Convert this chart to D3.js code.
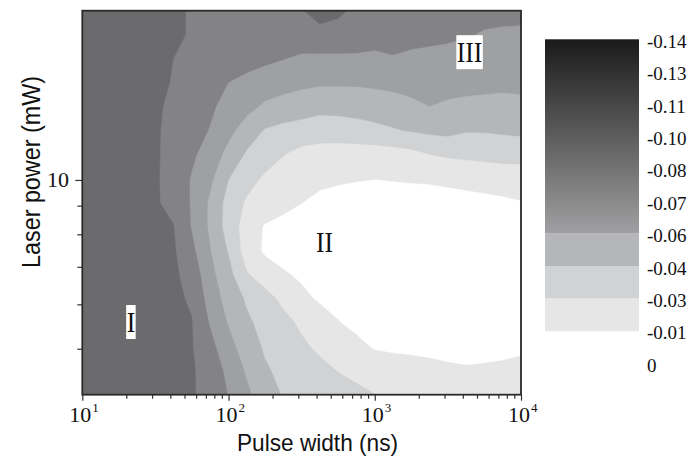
<!DOCTYPE html>
<meta charset="utf-8">
<script src="https://d3js.org/d3.v7.min.js"></script>
<style>
  body { margin: 0; background: #fff; }
</style>
<body>
<div id="chart"></div>
<script>

// grid columns: pulse width (ns), rows: laser power (mW), top row first
var pulseWidth = [10, 13.34, 17.78, 23.71, 31.62, 42.17, 56.23, 74.99, 100, 133.4, 177.8, 237.1, 316.2,
                  421.7, 562.3, 749.9, 1000, 1334, 1778, 2371, 3162, 4217, 5623, 7499, 10000];
var laserPower = [20.04, 18.16, 16.45, 14.91, 13.51, 12.24, 11.09, 10.05, 9.11, 8.26, 7.48, 6.78,
                  6.14, 5.57, 5.04, 4.57, 4.14];

// measured signal on that grid
var signal = [
  [-0.090,-0.090,-0.090,-0.089,-0.088,-0.086,-0.083,-0.080,-0.079,-0.079,-0.080,-0.082,-0.083,-0.092,-0.087,-0.081,-0.079,-0.078,-0.077,-0.076,-0.076,-0.075,-0.074,-0.074,-0.075],
  [-0.090,-0.090,-0.089,-0.089,-0.088,-0.086,-0.083,-0.081,-0.080,-0.079,-0.079,-0.078,-0.078,-0.078,-0.078,-0.077,-0.074,-0.076,-0.075,-0.074,-0.073,-0.071,-0.069,-0.068,-0.067],
  [-0.090,-0.090,-0.089,-0.088,-0.086,-0.084,-0.082,-0.080,-0.078,-0.076,-0.073,-0.0705,-0.068,-0.068,-0.068,-0.068,-0.068,-0.069,-0.067,-0.066,-0.065,-0.064,-0.064,-0.063,-0.063],
  [-0.090,-0.090,-0.089,-0.088,-0.086,-0.0835,-0.080,-0.075,-0.070,-0.066,-0.063,-0.061,-0.059,-0.058,-0.058,-0.058,-0.059,-0.060,-0.061,-0.062,-0.061,-0.060,-0.060,-0.059,-0.059],
  [-0.090,-0.090,-0.089,-0.088,-0.0855,-0.082,-0.077,-0.072,-0.066,-0.060,-0.054,-0.051,-0.049,-0.046,-0.046,-0.047,-0.048,-0.050,-0.053,-0.056,-0.054,-0.053,-0.052,-0.052,-0.053],
  [-0.090,-0.090,-0.089,-0.087,-0.0855,-0.0805,-0.075,-0.0694,-0.0595,-0.050,-0.041,-0.038,-0.036,-0.035,-0.036,-0.037,-0.039,-0.041,-0.043,-0.045,-0.046,-0.043,-0.043,-0.044,-0.045],
  [-0.090,-0.090,-0.089,-0.087,-0.0855,-0.080,-0.0725,-0.0634,-0.0523,-0.0402,-0.0343,-0.0285,-0.024,-0.022,-0.021,-0.021,-0.021,-0.022,-0.024,-0.028,-0.030,-0.031,-0.032,-0.033,-0.033],
  [-0.090,-0.090,-0.089,-0.087,-0.0855,-0.0793,-0.0689,-0.0591,-0.0425,-0.0331,-0.026,-0.022,-0.019,-0.017,-0.016,-0.015,-0.0143,-0.015,-0.0155,-0.016,-0.017,-0.018,-0.019,-0.020,-0.021],
  [-0.090,-0.090,-0.089,-0.087,-0.0855,-0.080,-0.0688,-0.054,-0.037,-0.0264,-0.0224,-0.0183,-0.0143,-0.011,-0.009,-0.008,-0.007,-0.007,-0.008,-0.008,-0.009,-0.010,-0.011,-0.012,-0.0135],
  [-0.090,-0.090,-0.089,-0.088,-0.0865,-0.0845,-0.0692,-0.054,-0.0361,-0.0222,-0.013,-0.010,-0.008,-0.007,-0.006,-0.005,-0.005,-0.005,-0.005,-0.005,-0.005,-0.005,-0.006,-0.006,-0.007],
  [-0.090,-0.090,-0.089,-0.088,-0.087,-0.0857,-0.0735,-0.0567,-0.0412,-0.022,-0.012,-0.009,-0.007,-0.006,-0.005,-0.005,-0.004,-0.004,-0.004,-0.004,-0.004,-0.004,-0.005,-0.005,-0.006],
  [-0.090,-0.090,-0.089,-0.088,-0.087,-0.0862,-0.0793,-0.0602,-0.0468,-0.0293,-0.022,-0.0156,-0.012,-0.009,-0.007,-0.006,-0.005,-0.005,-0.004,-0.004,-0.004,-0.004,-0.004,-0.005,-0.005],
  [-0.090,-0.090,-0.089,-0.088,-0.087,-0.086,-0.0828,-0.0641,-0.0508,-0.0404,-0.0329,-0.0252,-0.0172,-0.0125,-0.010,-0.008,-0.007,-0.006,-0.005,-0.005,-0.005,-0.005,-0.005,-0.005,-0.006],
  [-0.090,-0.090,-0.089,-0.088,-0.087,-0.086,-0.0845,-0.0691,-0.0551,-0.0445,-0.0375,-0.0317,-0.0259,-0.0203,-0.0146,-0.011,-0.009,-0.008,-0.007,-0.007,-0.006,-0.006,-0.006,-0.007,-0.008],
  [-0.090,-0.090,-0.089,-0.088,-0.087,-0.086,-0.0848,-0.0743,-0.0611,-0.0491,-0.0404,-0.0353,-0.0303,-0.0257,-0.0214,-0.0172,-0.013,-0.011,-0.010,-0.009,-0.009,-0.008,-0.008,-0.009,-0.010],
  [-0.090,-0.090,-0.089,-0.088,-0.087,-0.086,-0.0855,-0.0784,-0.0668,-0.0544,-0.0437,-0.0389,-0.0352,-0.0315,-0.0277,-0.025,-0.022,-0.023,-0.022,-0.020,-0.017,-0.016,-0.017,-0.018,-0.021],
  [-0.090,-0.090,-0.089,-0.088,-0.087,-0.086,-0.0855,-0.0786,-0.0697,-0.059,-0.0487,-0.0411,-0.0385,-0.036,-0.0334,-0.0309,-0.0283,-0.026,-0.024,-0.023,-0.022,-0.022,-0.021,-0.021,-0.021]
];

// contour levels and colour scale
var levels = [-0.14, -0.126, -0.112, -0.098, -0.084, -0.070, -0.056, -0.042, -0.028, -0.014, 0];
var levelLabels = ["-0.14", "-0.13", "-0.11", "-0.10", "-0.08", "-0.07", "-0.06", "-0.04", "-0.03", "-0.01", "0"];
var bandColors = ["#1c1c1c", "#313132", "#48484a", "#6b6b6d", "#838385", "#9fa0a2",
                  "#b5b6b8", "#d1d2d4", "#e6e6e6", "#ffffff"];

// axis ticks
var xMajor = [10, 100, 1000, 10000];
var xExponent = ["1", "2", "3", "4"];
var yTicks = [5, 6, 7, 8, 9, 10];
var yLabelled = [10];

// region names
var regionNames = ["I", "II", "III"];
var regionPulse = [21.5, 454, 4450];
var regionPower = [5.58, 7.74, 16.9];
var regionBox = [true, false, true];

var serif = "'Liberation Serif', 'Times New Roman', serif";
var sans = "'Liberation Sans', Arial, sans-serif";

var plotLeft = 82.3, plotRight = 521, plotTop = 10.7, plotBottom = 394.7;

var svg = d3.select("#chart")
  .append("svg")
    .attr("width", 690)
    .attr("height", 458);

var x = d3.scaleLog().domain([10, 10000]).range([plotLeft, plotRight]);
var y = d3.scaleLog().domain([4.14, 20.04]).range([plotBottom, plotTop]);

// contours
var n = pulseWidth.length, m = laserPower.length;
var values = [];
signal.forEach(function(row) { row.forEach(function(v) { values.push(v); }); });

var contours = d3.contours()
  .size([n, m])
  .thresholds(levels.slice(0, 10))(values);

// grid index -> data value (log interpolation between grid nodes)
function gridValue(arr, c) {
  var t = Math.max(0, Math.min(arr.length - 1, c - 0.5));
  var i = Math.min(arr.length - 2, Math.floor(t)), f = t - i;
  return Math.pow(10, Math.log10(arr[i]) * (1 - f) + Math.log10(arr[i + 1]) * f);
}

var proj = d3.geoTransform({
  point: function(px, py) {
    this.stream.point(x(gridValue(pulseWidth, px)), y(gridValue(laserPower, py)));
  }
});
var path = d3.geoPath(proj);

svg.append("clipPath").attr("id", "plotclip")
  .append("rect")
    .attr("x", plotLeft).attr("y", plotTop)
    .attr("width", plotRight - plotLeft).attr("height", plotBottom - plotTop);

svg.append("g")
    .attr("clip-path", "url(#plotclip)")
  .selectAll("path")
  .data(contours)
  .enter()
  .append("path")
    .attr("d", path)
    .attr("fill", function(d, i) { return bandColors[i]; })
    .attr("stroke", function(d, i) { return bandColors[i]; })
    .attr("stroke-width", 0.5);

// region labels
regionNames.forEach(function(name, i) {
  var cx = x(regionPulse[i]), cy = y(regionPower[i]);
  var w = 8.5 * name.length;
  if (regionBox[i]) {
    svg.append("rect")
      .attr("x", cx - w / 2 - 0.5).attr("y", cy - 17)
      .attr("width", w + 1).attr("height", 34)
      .attr("fill", "#fff");
  }
  svg.append("text")
    .attr("x", cx - w / 2)
    .attr("y", cy + 10)
    .attr("textLength", w)
    .attr("lengthAdjust", "spacingAndGlyphs")
    .style("font-family", serif)
    .style("font-size", "30px")
    .attr("fill", "#111")
    .text(name);
});

// x ticks
var xMinor = [];
[10, 100, 1000].forEach(function(d) {
  for (var k = 2; k <= 9; k++) xMinor.push(d * k);
});

svg.append("g")
    .attr("transform", "translate(0," + plotBottom + ")")
    .call(d3.axisBottom(x).tickValues(xMinor).tickSize(4).tickSizeOuter(0).tickFormat(""))
    .call(function(g) { g.select(".domain").remove(); })
    .selectAll("line").attr("stroke", "#333").attr("stroke-width", 1.2);

svg.append("g")
    .attr("transform", "translate(0," + plotBottom + ")")
    .call(d3.axisBottom(x).tickValues(xMajor).tickSize(6).tickSizeOuter(0).tickFormat(""))
    .call(function(g) { g.select(".domain").remove(); })
    .selectAll("line").attr("stroke", "#333").attr("stroke-width", 1.2);

xMajor.forEach(function(d, i) {
  var t = svg.append("text")
    .attr("x", x(d) - 13)
    .attr("y", 422)
    .style("font-family", serif)
    .style("font-size", "22px")
    .attr("fill", "#111");
  t.append("tspan").text("10");
  t.append("tspan").attr("dx", 1).attr("dy", -10).style("font-size", "13px").text(xExponent[i]);
});

// y ticks
svg.append("g")
    .attr("transform", "translate(" + plotLeft + ",0)")
    .call(d3.axisLeft(y).tickValues(yTicks).tickSize(5).tickSizeOuter(0).tickFormat(""))
    .call(function(g) { g.select(".domain").remove(); })
    .selectAll("line")
      .attr("stroke", "#333").attr("stroke-width", 1.2)
      .attr("x2", function(d) { return yLabelled.indexOf(d) >= 0 ? -7 : -5; });

yLabelled.forEach(function(d) {
  svg.append("text")
    .attr("x", 69)
    .attr("y", y(d) + 7.5)
    .attr("text-anchor", "end")
    .style("font-family", serif)
    .style("font-size", "22px")
    .attr("fill", "#111")
    .text(d);
});

// frame
svg.append("rect")
  .attr("x", plotLeft).attr("y", plotTop)
  .attr("width", plotRight - plotLeft).attr("height", plotBottom - plotTop)
  .attr("fill", "none")
  .attr("stroke", "#2a2a2a")
  .attr("stroke-width", 1.8);

// axis titles
svg.append("text")
  .attr("x", 237)
  .attr("y", 451)
  .attr("textLength", 161)
  .attr("lengthAdjust", "spacingAndGlyphs")
  .style("font-family", sans)
  .style("font-size", "24px")
  .attr("fill", "#111")
  .text("Pulse width (ns)");

svg.append("text")
  .attr("transform", "translate(40,268) rotate(-90)")
  .attr("textLength", 192)
  .attr("lengthAdjust", "spacingAndGlyphs")
  .style("font-family", sans)
  .style("font-size", "25px")
  .attr("fill", "#111")
  .text("Laser power (mW)");

// colour bar
var barY = d3.scaleLinear().domain([levels[0], levels[levels.length - 1]]).range([39.3, 363.3]);
var barLeft = 545, barRight = 639;

var grad = svg.append("defs").append("linearGradient")
  .attr("id", "bargrad")
  .attr("x1", 0).attr("y1", 0).attr("x2", 0).attr("y2", 1);
grad.append("stop").attr("offset", "0%").attr("stop-color", "#1a1a1a");
grad.append("stop").attr("offset", "100%").attr("stop-color", "#a0a0a2");

// continuous part of the bar
svg.append("rect")
  .attr("x", barLeft).attr("y", barY(levels[0]))
  .attr("width", barRight - barLeft)
  .attr("height", barY(levels[6]) - barY(levels[0]))
  .attr("fill", "url(#bargrad)");

// stepped part of the bar
svg.selectAll(".band")
  .data(d3.range(6, 9))
  .enter()
  .append("rect")
    .attr("class", "band")
    .attr("x", barLeft)
    .attr("y", function(k) { return barY(levels[k]); })
    .attr("width", barRight - barLeft)
    .attr("height", function(k) { return barY(levels[k + 1]) - barY(levels[k]) + 0.3; })
    .attr("fill", function(k) { return bandColors[k]; });

svg.selectAll(".barlabel")
  .data(levels)
  .enter()
  .append("text")
    .attr("class", "barlabel")
    .attr("x", 647)
    .attr("y", function(d) { return barY(d) + 8.5; })
    .style("font-family", serif)
    .style("font-size", "19px")
    .attr("fill", "#111")
    .text(function(d, i) { return levelLabels[i]; });

</script>
